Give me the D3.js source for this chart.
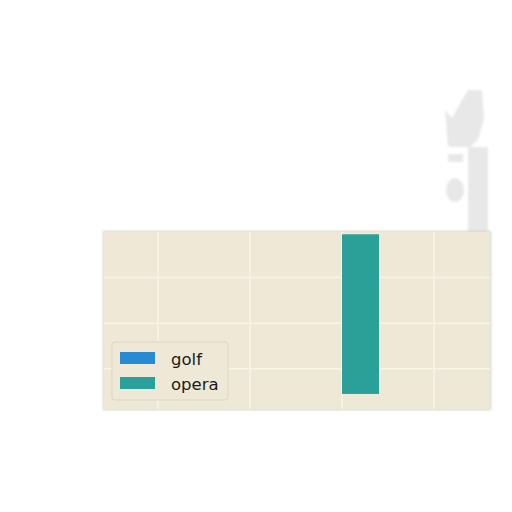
<!DOCTYPE html>
<html>
<head>
<meta charset="utf-8">
<script src="https://cdn.jsdelivr.net/npm/d3@7"></script>
<style>
html,body{margin:0;padding:0;background:#ffffff;}
svg{display:block;font-family:"DejaVu Sans",sans-serif;}
</style>
</head>
<body>
<svg id="chart" width="512" height="512"></svg>
<script>
// Data
const categories = ["A", "B", "C", "D"];
const seriesNames = ["golf", "opera"];
const golfValues = [0, 0, 0, 0];
const operaValues = [0, 0, 2.95, 0];
const operaBase = [0, 0, -0.55, 0];
const yTicks = [0, 1, 2];
const seriesColors = ["#268bd2", "#2aa198"];

const svg = d3.select("#chart");
const plot = {left: 104, right: 490, top: 232, bottom: 409};

const defs = svg.append("defs");
const f = defs.append("filter").attr("id", "blur").attr("x", "-10%").attr("y", "-10%").attr("width", "120%").attr("height", "120%");
f.append("feGaussianBlur").attr("stdDeviation", 1.5);
const f2 = defs.append("filter").attr("id", "soft").attr("x", "-20%").attr("y", "-20%").attr("width", "140%").attr("height", "140%");
f2.append("feGaussianBlur").attr("stdDeviation", 1.2);

// faint grey artifacts in the top-right
const art = svg.append("g").attr("fill", "#e8e8e8").attr("filter", "url(#soft)");
art.append("path").attr("d", "M445,110 L452,118 L462,100 L468,90 L482,90 L484,118 L478,140 L470,147 L448,147 Z");
art.append("rect").attr("x", 468).attr("y", 147).attr("width", 20).attr("height", 86);
art.append("rect").attr("x", 448).attr("y", 154).attr("width", 15).attr("height", 8);
art.append("ellipse").attr("cx", 455).attr("cy", 190).attr("rx", 9).attr("ry", 12);

// scales
const xCenter = d3.scalePoint().domain(categories).range([158, 434]);
const barW = 37;
const y = d3.scaleLinear().domain([-0.88, 3.0]).range([plot.bottom, plot.top]);

// plot shadow/border
svg.append("rect")
  .attr("x", plot.left - 1).attr("y", plot.top - 1)
  .attr("width", plot.right - plot.left + 2).attr("height", plot.bottom - plot.top + 2)
  .attr("fill", "#d6d3cb").attr("filter", "url(#blur)");
svg.append("rect")
  .attr("x", plot.left).attr("y", plot.top)
  .attr("width", plot.right - plot.left).attr("height", plot.bottom - plot.top)
  .attr("fill", "#eee8d6");

// gridlines
const grid = svg.append("g").attr("stroke", "#f8f4e6").attr("stroke-width", 1.5);
grid.selectAll("line.v").data(categories).join("line")
  .attr("x1", d => xCenter(d)).attr("x2", d => xCenter(d))
  .attr("y1", plot.top).attr("y2", plot.bottom);
grid.selectAll("line.h").data(yTicks).join("line")
  .attr("x1", plot.left).attr("x2", plot.right)
  .attr("y1", d => y(d)).attr("y2", d => y(d));

// bars
const golfBars = svg.append("g").attr("fill", seriesColors[0]);
golfBars.selectAll("rect").data(categories).join("rect")
  .attr("x", d => xCenter(d) - barW)
  .attr("width", barW)
  .attr("y", (d, i) => y(Math.max(0, golfValues[i])))
  .attr("height", (d, i) => Math.abs(y(golfValues[i]) - y(0)));

const operaBars = svg.append("g").attr("fill", seriesColors[1]);
operaBars.selectAll("rect").data(categories).join("rect")
  .attr("x", d => xCenter(d))
  .attr("width", barW)
  .attr("y", (d, i) => y(operaValues[i]))
  .attr("height", (d, i) => Math.abs(y(operaBase[i]) - y(operaValues[i])));

// legend
const lg = svg.append("g");
lg.append("rect").attr("x", 112).attr("y", 342).attr("width", 116).attr("height", 58)
  .attr("rx", 3).attr("fill", "#eee8d6").attr("stroke", "#d9d5ca").attr("stroke-width", 1);
const items = lg.selectAll("g.item").data(seriesNames).join("g")
  .attr("transform", (d, i) => `translate(0,${i * 25})`);
items.append("rect").attr("x", 120).attr("y", 352).attr("width", 35).attr("height", 12)
  .attr("fill", (d, i) => seriesColors[i]);
items.append("text").attr("x", 171).attr("y", 364.5)
  .attr("font-size", 16.5).attr("fill", "#1a1a1a").text(d => d);
</script>
</body>
</html>
